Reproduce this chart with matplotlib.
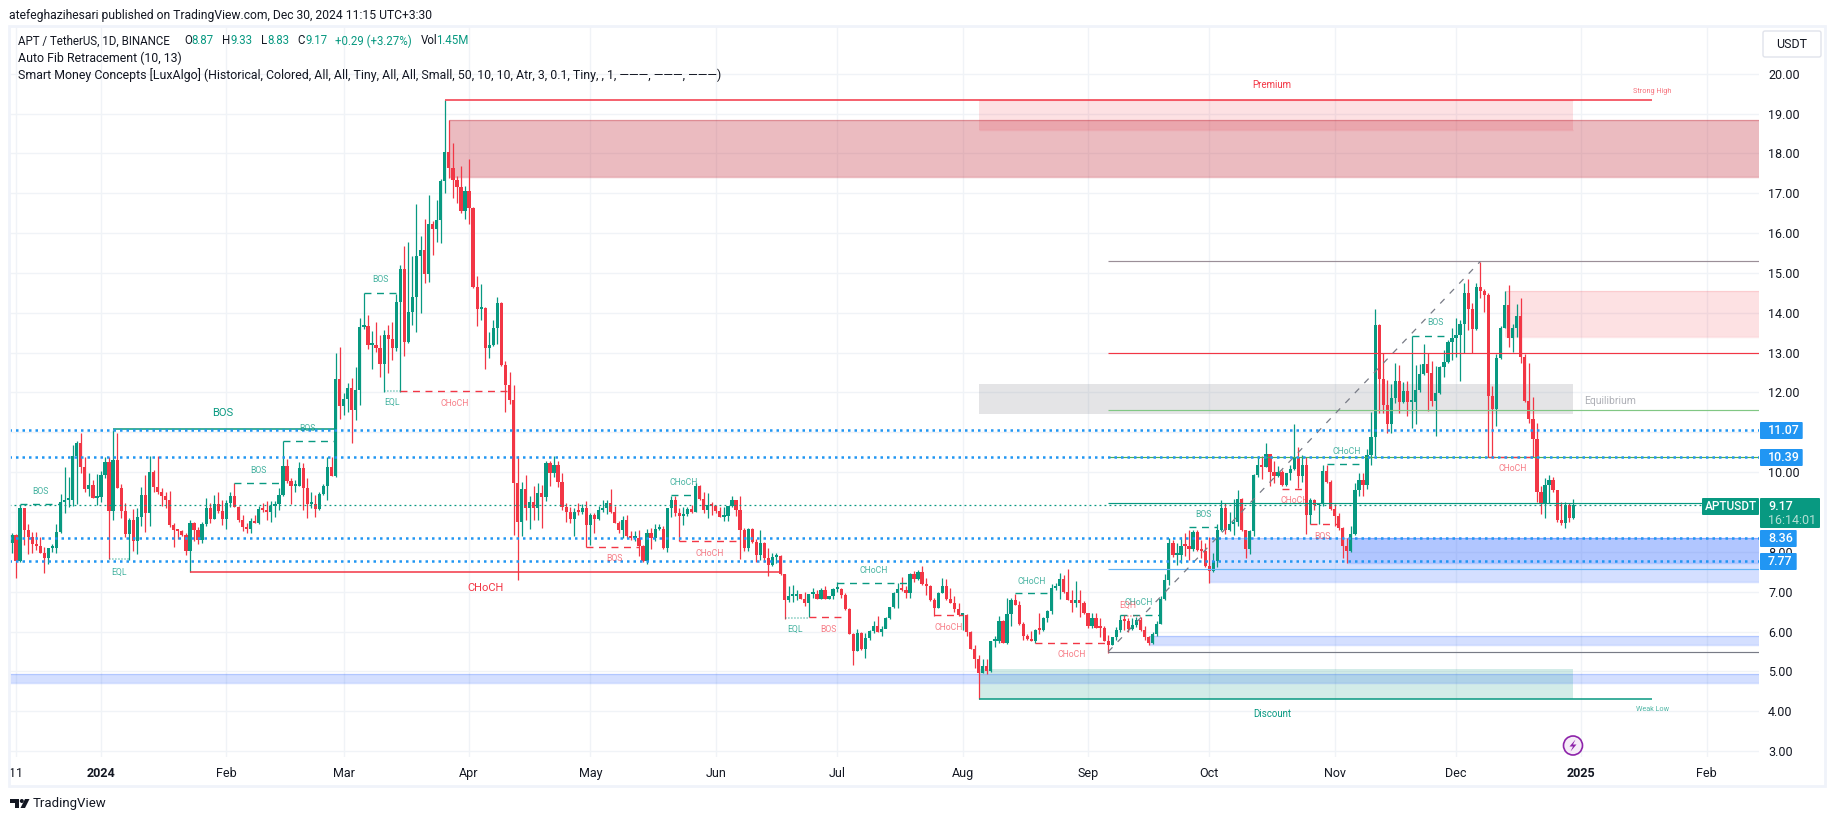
import matplotlib
matplotlib.use('Agg')
import matplotlib.pyplot as plt
import numpy as np
from matplotlib.patches import Rectangle, Circle, Polygon, FancyBboxPatch

plt.rcParams['font.family'] = ['Roboto', 'DejaVu Sans']

# daily bars, day 0 = 2024-01-01, first bar = 2023-12-10
first_open = 8.23
closes = [
    8.42, 7.77, 9.09, 8.54, 8.37, 8.20, 8.15, 7.98, 7.85, 8.09, 8.10, 8.50, 9.24, 9.30, 9.30, 10.41, 10.74, 10.12, 9.58, 9.68, 9.36, 9.37,
    9.93, 10.26, 9.03, 10.31, 9.60, 9.03, 8.45, 8.80, 8.26, 8.87,
    9.43, 8.98, 10.01, 9.64, 9.49, 9.40, 9.30, 8.67, 8.55, 8.53,
    8.42, 8.02, 8.72, 8.55, 8.30, 8.70, 9.10, 8.83, 9.20, 9.03,
    8.83, 9.22, 9.40, 9.13, 8.80, 8.63, 8.57, 8.78, 8.73, 9.07,
    9.06, 9.00, 9.15, 9.20, 9.43, 10.15, 9.79, 9.65, 9.65, 10.10,
    9.61, 9.20, 9.21, 9.08, 9.45, 9.65, 10.12, 9.90, 12.33, 11.66,
    11.84, 12.11, 11.56, 12.06, 13.64, 13.66, 13.19, 13.20, 13.11, 12.72,
    13.44, 13.34, 13.12, 14.27, 15.10, 13.28, 14.01, 14.40, 15.43, 15.58,
    14.97, 16.23, 16.10, 16.33, 17.31, 18.04, 17.64, 17.33, 17.15, 16.55,
    17.05, 16.64, 14.64, 14.09, 14.13, 13.12, 13.19, 13.62, 14.25, 12.68,
    12.19, 11.81, 9.74, 8.76, 9.58, 9.11, 9.26, 9.11, 9.47, 9.38,
    10.22, 9.99, 10.18, 9.76, 9.13, 9.01, 8.83, 9.00, 8.99, 9.09,
    8.68, 8.93, 8.83, 9.05, 9.10, 9.22, 8.99, 8.73, 8.55, 8.80,
    8.40, 8.34, 8.35, 8.15, 7.77, 8.47, 8.34, 8.57, 8.57, 8.09,
    9.09, 9.30, 8.97, 8.91, 8.95, 9.07, 9.01, 9.65, 9.33, 9.05,
    9.17, 9.15, 9.03, 8.88, 8.90, 9.15, 9.30, 9.05, 8.55, 8.09,
    8.57, 8.25, 7.91, 8.21, 7.85, 7.67, 7.86, 7.89, 7.45, 6.80,
    6.89, 6.90, 6.94, 6.82, 6.72, 6.94, 6.94, 6.82, 7.04, 6.82,
    6.89, 7.06, 7.06, 6.92, 6.57, 5.95, 5.51, 5.96, 5.56, 5.84,
    6.01, 6.14, 5.99, 6.07, 6.34, 6.62, 6.97, 7.06, 7.05, 6.96,
    7.44, 7.33, 7.50, 7.19, 7.13, 6.79, 6.60, 6.97, 7.14, 6.81,
    6.72, 6.57, 6.41, 6.41, 5.99, 5.57, 5.32, 4.96, 5.14, 5.00,
    5.76, 5.76, 6.27, 5.72, 6.43, 6.79, 6.67, 6.19, 5.89, 5.80,
    5.76, 6.04, 6.03, 6.34, 6.52, 7.08, 7.14, 7.33, 6.99, 6.79,
    6.71, 6.79, 6.71, 6.47, 6.14, 6.35, 6.10, 6.09, 5.77, 5.66,
    5.85, 6.04, 6.29, 6.27, 6.07, 6.17, 6.29, 6.04, 5.85, 5.71,
    5.93, 6.20, 6.81, 7.29, 8.23, 7.92, 7.93, 8.15, 8.14, 8.07,
    8.50, 8.05, 8.03, 7.64, 7.52, 7.77, 8.55, 9.10, 8.56, 8.70,
    8.76, 9.33, 8.55, 8.08, 8.52, 9.93, 10.18, 10.14, 10.45, 10.01,
    9.90, 10.00, 9.68, 9.97, 10.07, 10.39, 9.90, 10.18, 8.92, 9.30,
    9.18, 9.20, 10.04, 9.76, 9.08, 8.90, 8.61, 8.15, 8.02, 8.45,
    9.55, 9.80, 9.68, 10.43, 10.89, 13.69, 12.33, 11.68, 11.21, 11.85,
    12.29, 11.75, 12.04, 11.75, 11.77, 12.06, 12.46, 12.71, 12.50, 11.79,
    11.98, 12.65, 12.77, 13.27, 13.36, 13.44, 13.72, 14.49, 14.09, 13.60,
    14.64, 14.55, 14.45, 11.92, 11.58, 12.86, 13.63, 14.19, 13.37, 13.63,
    13.92, 12.90, 11.78, 11.33, 10.83, 9.51, 9.20, 9.67, 9.80, 9.54,
    8.79, 8.72, 9.18, 8.84, 9.17]
highs = [
    8.47, 8.44, 9.18, 9.10, 8.70, 8.50, 8.50, 8.38, 8.11, 8.10, 8.20, 8.70, 9.45, 10.13, 9.89, 10.68, 10.78, 10.99, 10.39, 9.99, 9.80, 9.95,
    10.04, 10.37, 10.37, 11.07, 10.98, 9.70, 9.22, 8.85, 9.07, 9.09,
    9.64, 9.93, 10.41, 10.05, 10.41, 9.60, 9.51, 9.53, 8.72, 8.56,
    8.56, 8.47, 8.80, 8.76, 8.63, 8.76, 9.34, 9.22, 9.43, 9.50,
    9.30, 9.30, 9.51, 9.72, 9.15, 8.92, 8.72, 8.84, 8.93, 9.15,
    9.23, 9.28, 9.28, 9.28, 9.60, 10.77, 10.32, 9.85, 9.80, 10.25,
    10.22, 9.85, 9.51, 9.43, 9.49, 9.70, 10.39, 10.39, 12.98, 13.14,
    11.98, 12.23, 12.36, 12.65, 13.86, 14.51, 13.94, 13.54, 13.78, 13.44,
    13.57, 13.69, 13.78, 14.46, 15.20, 15.68, 15.77, 15.43, 16.73, 15.93,
    16.35, 16.96, 16.31, 16.83, 17.35, 19.33, 18.84, 18.27, 17.43, 17.69,
    17.18, 17.85, 16.66, 14.92, 14.72, 14.15, 13.53, 13.82, 14.40, 14.28,
    12.79, 12.52, 12.19, 10.41, 9.76, 9.93, 9.39, 9.66, 9.72, 9.68,
    10.28, 10.28, 10.41, 10.28, 9.97, 9.22, 9.13, 9.09, 9.22, 9.20,
    9.28, 8.97, 8.97, 9.15, 9.30, 9.30, 9.58, 9.15, 8.78, 8.90,
    8.93, 8.52, 8.52, 8.55, 8.17, 8.57, 8.61, 8.70, 8.70, 8.65,
    9.10, 9.41, 9.39, 9.10, 9.13, 9.13, 9.17, 9.72, 9.68, 9.51,
    9.47, 9.26, 9.17, 9.13, 9.13, 9.15, 9.39, 9.30, 9.40, 8.60,
    8.60, 8.60, 8.31, 8.55, 8.25, 8.09, 7.97, 7.97, 7.92, 7.45,
    7.13, 7.17, 7.04, 6.95, 6.98, 6.95, 7.08, 7.04, 7.08, 7.13,
    6.90, 7.10, 7.24, 7.08, 6.96, 6.59, 5.96, 6.06, 6.00, 5.97,
    6.04, 6.27, 6.39, 6.14, 6.37, 6.62, 7.00, 7.23, 7.36, 7.14,
    7.46, 7.53, 7.55, 7.65, 7.35, 7.17, 6.83, 6.98, 7.35, 7.33,
    7.08, 6.89, 6.71, 6.46, 6.43, 6.01, 5.65, 5.40, 5.32, 5.32,
    5.77, 5.89, 6.40, 6.29, 6.85, 6.85, 6.95, 6.77, 6.25, 5.95,
    6.01, 6.07, 6.46, 6.37, 6.53, 7.19, 7.21, 7.46, 7.42, 7.56,
    7.04, 7.27, 7.04, 6.77, 6.47, 6.47, 6.47, 6.33, 6.14, 5.91,
    5.87, 6.12, 6.41, 6.41, 6.33, 6.33, 6.37, 6.37, 6.14, 5.89,
    6.00, 6.27, 6.88, 7.44, 8.34, 8.30, 8.21, 8.38, 8.47, 8.55,
    8.55, 8.55, 8.30, 8.23, 8.38, 7.96, 8.71, 9.30, 9.22, 9.00,
    9.33, 9.55, 9.34, 8.55, 8.56, 9.95, 10.40, 10.40, 10.74, 10.46,
    10.29, 10.15, 10.05, 9.99, 10.18, 11.22, 10.62, 10.43, 10.39, 9.34,
    9.33, 9.22, 10.18, 10.18, 9.80, 9.20, 8.97, 8.62, 8.36, 8.65,
    9.72, 9.97, 9.97, 10.57, 11.52, 14.09, 13.73, 12.98, 12.31, 12.21,
    12.73, 12.69, 12.27, 12.29, 13.42, 12.69, 12.71, 13.21, 12.98, 12.80,
    12.66, 12.67, 13.07, 13.32, 13.63, 13.88, 13.82, 14.74, 14.84, 14.24,
    14.75, 15.28, 14.61, 14.50, 12.17, 12.97, 13.67, 14.54, 14.70, 13.73,
    14.22, 14.36, 12.96, 12.73, 11.89, 11.24, 9.65, 9.85, 9.93, 9.89,
    9.55, 9.26, 9.26, 9.22, 9.33]
lows = [
    7.98, 7.35, 7.75, 8.16, 7.94, 7.96, 8.05, 7.96, 7.48, 7.69, 8.00, 7.98, 8.47, 8.97, 9.12, 9.14, 9.20, 9.99, 9.51, 9.40, 9.35, 9.18,
    9.24, 9.86, 7.81, 8.80, 9.60, 8.85, 8.37, 7.80, 8.02, 7.95,
    8.65, 8.51, 8.65, 9.51, 9.45, 9.15, 9.09, 8.63, 8.11, 8.32,
    8.40, 7.91, 7.49, 8.26, 8.20, 8.23, 8.66, 8.72, 8.83, 8.97,
    8.67, 8.58, 9.12, 9.12, 8.76, 8.53, 8.47, 8.47, 8.72, 8.70,
    9.01, 8.80, 8.76, 8.87, 9.05, 9.40, 9.72, 9.20, 9.51, 9.66,
    9.05, 8.86, 9.09, 8.88, 9.05, 9.42, 9.30, 9.90, 9.87, 11.33,
    11.44, 11.52, 10.74, 11.31, 11.69, 13.60, 13.09, 12.59, 13.02, 12.40,
    12.02, 12.48, 12.82, 13.04, 12.02, 12.92, 13.23, 13.69, 13.53, 14.00,
    14.76, 14.78, 15.45, 15.77, 15.76, 17.00, 17.39, 16.89, 16.75, 16.50,
    16.35, 16.23, 14.62, 13.67, 13.82, 12.60, 12.87, 13.17, 13.22, 12.66,
    11.52, 11.71, 8.42, 7.30, 8.40, 8.80, 8.57, 8.80, 8.80, 8.59,
    9.28, 9.66, 9.89, 9.64, 9.05, 8.76, 8.72, 8.40, 8.93, 8.95,
    8.11, 8.16, 8.47, 8.80, 9.00, 8.94, 8.97, 8.72, 8.47, 8.34,
    8.34, 8.30, 8.28, 7.90, 7.75, 7.70, 8.07, 8.28, 8.55, 8.07,
    8.00, 8.88, 8.91, 8.26, 8.68, 8.90, 8.97, 9.00, 9.30, 8.97,
    8.84, 8.93, 8.97, 8.87, 8.78, 8.78, 9.12, 8.91, 7.82, 8.02,
    8.02, 8.23, 7.74, 7.80, 7.75, 7.40, 7.65, 7.71, 7.42, 6.31,
    6.73, 6.73, 6.78, 6.81, 6.64, 6.37, 6.85, 6.81, 6.81, 6.81,
    6.81, 6.81, 7.00, 6.83, 6.54, 5.94, 5.16, 5.50, 5.54, 5.34,
    5.79, 5.97, 5.98, 5.89, 6.08, 6.31, 6.58, 6.58, 7.02, 6.83,
    6.83, 7.25, 7.29, 7.17, 6.92, 6.77, 6.39, 6.58, 6.96, 6.79,
    6.71, 6.50, 6.39, 6.04, 5.89, 5.55, 5.08, 4.30, 4.95, 4.93,
    4.99, 5.62, 5.70, 5.70, 5.69, 6.15, 6.66, 6.16, 5.79, 5.79,
    5.75, 5.70, 5.95, 6.02, 6.25, 6.45, 7.03, 6.82, 6.96, 6.79,
    6.50, 6.61, 6.37, 6.45, 6.10, 6.10, 6.08, 5.87, 5.75, 5.47,
    5.67, 5.79, 5.99, 6.04, 5.99, 6.05, 6.12, 6.02, 5.79, 5.66,
    5.68, 5.89, 6.19, 6.79, 7.17, 7.88, 7.67, 7.71, 7.90, 7.79,
    8.03, 8.03, 7.84, 7.63, 7.23, 7.50, 7.63, 8.53, 8.46, 8.53,
    8.42, 8.65, 8.53, 7.85, 7.95, 8.40, 9.87, 9.84, 10.14, 9.65,
    9.74, 9.88, 9.65, 9.65, 9.80, 10.05, 9.60, 9.75, 8.45, 8.70,
    9.05, 8.69, 9.15, 9.74, 9.06, 8.65, 8.55, 7.84, 7.73, 8.00,
    8.42, 9.40, 9.40, 9.57, 10.18, 10.40, 11.48, 11.48, 10.99, 10.99,
    11.73, 11.49, 11.73, 11.41, 11.12, 11.21, 12.02, 12.44, 11.54, 11.67,
    10.92, 11.96, 12.40, 12.73, 12.81, 12.88, 12.30, 12.98, 13.58, 13.00,
    13.57, 14.38, 14.03, 10.39, 10.39, 11.16, 12.84, 13.61, 13.15, 13.01,
    13.40, 12.73, 11.76, 11.24, 10.39, 9.26, 8.95, 8.84, 9.22, 9.51,
    8.76, 8.67, 8.61, 8.76, 8.83]

month_days = [-21, 0, 31, 60, 91, 121, 152, 182, 213, 244, 274, 305, 335, 366, 397]
month_labels = ['11', '2024', 'Feb', 'Mar', 'Apr', 'May', 'Jun', 'Jul', 'Aug', 'Sep', 'Oct', 'Nov', 'Dec', '2025', 'Feb']
price_ticks = list(range(3, 21))
covered_ticks = [9, 11]  # sit behind the price labels

# horizontal drawings
blue_levels = [11.07, 10.39, 8.36, 7.77]
last_price = 9.17

# auto fib: (level, colour)
fib_levels = [15.29, 12.98, 11.55, 10.38, 9.22, 7.56, 5.49]
fib_colors = ['#9b8f98', '#f23645', '#81c784', '#4caf50', '#089981', '#64b5f6', '#787b86']
fib_start, fib_end = 249, 341

# zones: day from, day to (None = right edge), bottom, top
red_zones = [(217, 364, 18.60, 19.33), (347, None, 13.40, 14.55)]
order_block = (86, None, 17.40, 18.84)
gray_zone = (217, 364, 11.47, 12.21)
blue_zones = [(274, None, 7.24, 8.36), (308, None, 7.73, 8.36), (259, None, 5.67, 5.89), (-30, None, 4.72, 4.93)]
green_zone = (217, 364, 4.31, 5.06)
strong_high = (85, 383.5, 19.33)
weak_low = (217, 383.5, 4.31)

# structure lines: day from, day to, price
bos_green_dashed = [(-20, -10, 9.19), (45, 58, 10.77), (33, 45, 9.72), (65, 74, 14.51), (141, 147, 9.42),
                    (182, 200, 7.23), (226, 235, 6.96), (252, 262, 6.41), (269, 276, 8.62), (303, 312, 10.20), (324, 333, 13.42)]
bos_red_dashed = [(74, 101, 12.03), (120, 133, 8.11), (143, 158, 8.27), (175, 184, 6.36), (206, 213, 6.41),
                  (231, 249, 5.70), (292, 298, 9.59), (299, 306, 8.69), (343, 354, 10.39)]
solid_green = [(3, 58, 11.09)]
solid_red = [(22, 168, 7.49)]
eq_green = [(2, 7, 7.82), (70, 74, 12.03), (169, 175, 6.33)]
eq_red = [(253, 257, 6.38)]

# labels: text, day, price
green_tiny = [('BOS', -15, 9.52), ('BOS', 51, 11.10), ('BOS', 39, 10.04), ('BOS', 69, 14.84), ('EQL', 4.5, 7.49), ('EQL', 72, 11.75),
              ('CHoCH', 144, 9.75), ('EQL', 171.7, 6.06), ('CHoCH', 191, 7.53), ('CHoCH', 230, 7.26), ('CHoCH', 256.5, 6.73),
              ('BOS', 272.6, 8.94), ('CHoCH', 308, 10.52), ('BOS', 330, 13.76)]
red_tiny = [('CHoCH', 87.5, 11.73), ('BOS', 127, 7.83), ('CHoCH', 150.5, 7.96), ('BOS', 179.8, 6.06), ('CHoCH', 209.5, 6.10),
            ('CHoCH', 240, 5.43), ('EQH', 253.8, 6.65), ('CHoCH', 295, 9.28), ('BOS', 302, 8.39), ('CHoCH', 349, 10.09)]

GREEN = '#089981'
RED = '#f23645'
BLUE = '#2196f3'
DARK = '#131722'
GRID = '#f0f3f7'

fig = plt.figure(figsize=(18.35, 8.21), dpi=100, facecolor='white')
ax = fig.add_axes([9 / 1835, 1 - 757 / 821, 1750 / 1835, 731 / 821])
x_left, x_right = -22.74, 409.9
ax.set_xlim(x_left, x_right)
ax.set_ylim(2.85, 21.2)
for s in ax.spines.values():
    s.set_visible(False)
ax.yaxis.tick_right()
ax.set_yticks(price_ticks)
ax.set_yticklabels(['' if p in covered_ticks else '%.2f' % p for p in price_ticks], fontsize=9, color=DARK)
ax.set_xticks(month_days)
ax.set_xticklabels(month_labels, fontsize=9, color=DARK)
for lab in ax.get_xticklabels():
    if lab.get_text() in ('2024', '2025'):
        lab.set_fontweight('bold')
ax.tick_params(axis='y', length=0, pad=6.5)
ax.tick_params(axis='x', length=0, pad=7.5)
ax.grid(True, color=GRID, lw=1)
ax.set_axisbelow(True)


def zone(z, color, alpha, edge_alpha):
    d0, d1, lo, hi = z
    d1 = x_right if d1 is None else d1
    ax.add_patch(Rectangle((d0, lo), d1 - d0, hi - lo, facecolor=color, alpha=alpha, lw=0, zorder=1))
    ax.hlines([lo, hi], d0, d1, color=color, alpha=edge_alpha, lw=1, zorder=1.1)


for z in red_zones:
    zone(z, RED, 0.15, 0.12)
zone(order_block, '#c02030', 0.3, 0.3)
zone(gray_zone, '#787b86', 0.2, 0.0)
for z in blue_zones:
    zone(z, '#2962ff', 0.2, 0.2)
zone(green_zone, GREEN, 0.18, 0.0)

# candles
days = np.arange(-22, -22 + len(closes))
c = np.array(closes)
o = np.array([first_open] + closes[:-1])
h = np.array(highs)
l = np.array(lows)
up = c >= o
colors = np.where(up, GREEN, RED)
ax.vlines(days, l, h, colors=colors, lw=0.9, zorder=3)
body = np.maximum(np.abs(c - o), 0.05)
ax.bar(days, body, bottom=np.minimum(c, o), width=0.8, color=colors, lw=0, zorder=3.1)

# fib
for lev, col in zip(fib_levels, fib_colors):
    ax.hlines(lev, fib_start, x_right, color=col, lw=0.85, zorder=4)
ax.plot([fib_start, fib_end], [fib_levels[-1], fib_levels[0]], color='#787b86', lw=0.9, ls=(0, (5, 6)), zorder=4)

# horizontal rays
for lev in blue_levels:
    ax.plot([x_left, x_right], [lev, lev], color=BLUE, lw=1.8, ls=(0, (1, 1.6)), zorder=5)
ax.plot([x_left, 395.8], [last_price, last_price], color=GREEN, lw=0.9, ls=(0, (1.5, 2.5)), zorder=5)

# structure
for d0, d1, p in bos_green_dashed:
    ax.plot([d0, d1], [p, p], color=GREEN, lw=1.0, ls=(0, (5, 4)), zorder=4)
for d0, d1, p in bos_red_dashed:
    ax.plot([d0, d1], [p, p], color=RED, lw=1.0, ls=(0, (5, 4)), zorder=4)
for d0, d1, p in solid_green:
    ax.hlines(p, d0, d1, color=GREEN, lw=1.1, zorder=4)
for d0, d1, p in solid_red:
    ax.hlines(p, d0, d1, color=RED, lw=1.1, zorder=4)
for d0, d1, p in eq_green:
    ax.plot([d0, d1], [p, p], color=GREEN, alpha=0.5, lw=1.1, ls=(0, (1, 1)), zorder=4)
for d0, d1, p in eq_red:
    ax.plot([d0, d1], [p, p], color=RED, alpha=0.5, lw=1.1, ls=(0, (1, 1)), zorder=4)
ax.hlines(strong_high[2], strong_high[0], strong_high[1], color=RED, lw=1.1, zorder=4)
ax.hlines(weak_low[2], weak_low[0], weak_low[1], color=GREEN, lw=1.1, zorder=4)

for t, d, p in green_tiny:
    ax.text(d, p, t, color=GREEN, alpha=0.75, fontsize=6.2, ha='center', va='center', zorder=6)
for t, d, p in red_tiny:
    ax.text(d, p, t, color=RED, alpha=0.65, fontsize=6.2, ha='center', va='center', zorder=6)
ax.text(30, 11.48, 'BOS', color=GREEN, fontsize=8, ha='center', va='center', zorder=6)
ax.text(95, 7.10, 'CHoCH', color=RED, fontsize=8, ha='center', va='center', zorder=6)
ax.text(289.5, 19.72, 'Premium', color=RED, fontsize=7, ha='center', va='center', zorder=6)
ax.text(289.5, 3.93, 'Discount', color=GREEN, fontsize=7, ha='center', va='center', zorder=6)
ax.text(383.5, 19.47, 'Strong High', color=RED, alpha=0.7, fontsize=5.2, ha='center', va='bottom', zorder=6)
ax.text(383.5, 4.13, 'Weak Low', color=GREEN, alpha=0.7, fontsize=5.2, ha='center', va='top', zorder=6)
ax.text(373, 11.78, 'Equilibrium', color='#787b86', alpha=0.6, fontsize=7.5, ha='center', va='center', zorder=6)

# chrome drawn in pixel coordinates
ov = fig.add_axes([0, 0, 1, 1], zorder=10)
ov.set_xlim(0, 1835)
ov.set_ylim(821, 0)
ov.axis('off')
ov.patch.set_alpha(0)
ov.add_patch(Rectangle((8.5, 26), 1816, 760, fill=False, edgecolor='#f0f3fa', lw=2))


def label_box(x0, x1, y0, y1, color):
    ov.add_patch(FancyBboxPatch((x0 + 1, y0 + 1), x1 - x0 - 2, y1 - y0 - 2, boxstyle='round,pad=1',
                                facecolor=color, edgecolor=color, lw=0))


blue_boxes = [(1802.7, 422, 439, '11.07'), (1802.7, 449, 466, '10.39'), (1796.7, 530, 547, '8.36'), (1796.7, 553, 570, '7.77')]
for x1, y0, y1, t in blue_boxes:
    label_box(1760, x1, y0, y1, BLUE)
    ov.text(1768, (y0 + y1) / 2, t, color='white', fontsize=9, fontweight='medium', va='center')
label_box(1760, 1820, 498, 528, GREEN)
ov.text(1768, 506.5, '9.17', color='white', fontsize=9, fontweight='medium', va='center')
ov.text(1768, 520, '16:14:01', color='#b5e0d5', fontsize=9, va='center')
label_box(1702, 1759, 498, 515, GREEN)
ov.text(1730.5, 506.5, 'APTUSDT', color='white', fontsize=8.5, fontweight='medium', ha='center', va='center')

ov.add_patch(FancyBboxPatch((1765, 33), 54, 22, boxstyle='round,pad=2', facecolor='white', edgecolor='#e0e3eb', lw=1))
ov.text(1792, 44.5, 'USDT', color=DARK, fontsize=9, ha='center', va='center')

ov.text(9, 15, 'atefeghazihesari published on TradingView.com, Dec 30, 2024 11:15 UTC+3:30', color=DARK, fontsize=8.7, va='center')
legend_line = [(18, 'APT / TetherUS, 1D, BINANCE', DARK), (184, 'O', DARK), (191, '8.87', GREEN), (222, 'H', DARK), (230, '9.33', GREEN),
               (261, 'L', DARK), (267, '8.83', GREEN), (297, 'C', DARK), (305, '9.17', GREEN), (335, '+0.29 (+3.27%)', GREEN),
               (421, 'Vol', DARK), (436, '1.45M', GREEN)]
for x, t, col in legend_line:
    ov.text(x, 41, t, color=col, fontsize=8.3, va='center')
ov.text(18, 58.5, 'Auto Fib Retracement (10, 13)', color=DARK, fontsize=8.9, va='center')
ov.text(18, 75, 'Smart Money Concepts [LuxAlgo] (Historical, Colored, All, All, Tiny, All, All, Small, 50, 10, 10, Atr, 3, 0.1, Tiny, , 1, ———, ———, ———)',
        color=DARK, fontsize=8.9, va='center')

# TradingView mark
ov.add_patch(Polygon([(10, 799), (19, 799), (19, 808), (14.5, 808), (14.5, 803), (10, 803)], facecolor=DARK, lw=0))
ov.add_patch(Circle((21.8, 801), 2, facecolor=DARK, lw=0))
ov.add_patch(Polygon([(25, 799), (29.5, 799), (25, 808), (20.5, 808)], facecolor=DARK, lw=0))
ov.text(33, 804, 'TradingView', color=DARK, fontsize=9.5, va='center')

# dividends/earnings style marker
ov.add_patch(Circle((1573, 745.5), 9.5, facecolor='#f6ecf8', edgecolor='#8e24aa', lw=1.2))
ov.add_patch(Polygon([(1575.5, 739.5), (1569.5, 746.5), (1573, 746.5), (1570.5, 751.5), (1576.5, 744.5), (1573, 744.5)],
                     facecolor='#8e24aa', lw=0))

fig.savefig('out.png', dpi=100)
